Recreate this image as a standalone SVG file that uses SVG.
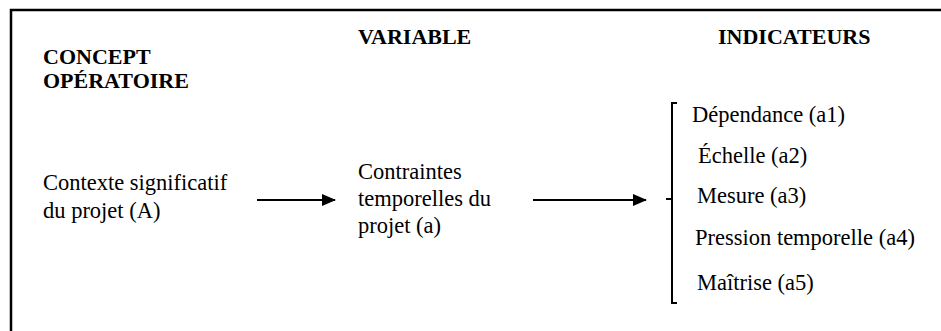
<svg xmlns="http://www.w3.org/2000/svg" width="941" height="331" viewBox="0 0 941 331">
  <style>
    text { font-family: 'Liberation Serif', 'DejaVu Serif', 'Times New Roman', Times, serif; fill: #000; }
    .h { font-size: 22px; font-weight: bold; }
    .t { font-size: 22.5px; }
    .ln { stroke: #000; fill: none; }
  </style>
  <defs>
    <marker id="arrowhead" markerWidth="14" markerHeight="12" refX="13" refY="6" orient="auto" markerUnits="userSpaceOnUse">
      <path d="M0,0 L14,6 L0,12 Z" fill="#000"/>
    </marker>
  </defs>

  <!-- frame -->
  <path class="ln" d="M11,331 V10 H941" stroke-width="2.5"/>

  <!-- column headings -->
  <g id="head-concept">
    <text class="h" x="43" y="64" font-family="Liberation Serif, serif">CONCEPT</text>
    <text class="h" x="43" y="88" font-family="Liberation Serif, serif">OPÉRATOIRE</text>
  </g>
  <g id="head-variable">
    <text class="h" x="358" y="44" font-family="Liberation Serif, serif">VARIABLE</text>
  </g>
  <g id="head-indicateurs">
    <text class="h" x="718" y="44" font-family="Liberation Serif, serif">INDICATEURS</text>
  </g>

  <!-- nodes -->
  <g id="node-concept">
    <text class="t" x="43" y="190" font-family="Liberation Serif, serif">Contexte significatif</text>
    <text class="t" x="43" y="218" font-family="Liberation Serif, serif">du projet (A)</text>
  </g>
  <g id="node-variable">
    <text class="t" x="358" y="179" font-family="Liberation Serif, serif">Contraintes</text>
    <text class="t" x="358" y="206" font-family="Liberation Serif, serif">temporelles du</text>
    <text class="t" x="358" y="233" font-family="Liberation Serif, serif">projet (a)</text>
  </g>
  <g id="node-indicateurs">
    <path class="ln" stroke-width="2" d="M677,103 H672 V303 H677 M672,199 H666"/>
    <text class="t" x="692" y="122" font-family="Liberation Serif, serif">Dépendance (a1)</text>
    <text class="t" x="698" y="163" font-family="Liberation Serif, serif">Échelle (a2)</text>
    <text class="t" x="697" y="203" font-family="Liberation Serif, serif">Mesure (a3)</text>
    <text class="t" x="695" y="245" font-family="Liberation Serif, serif">Pression temporelle (a4)</text>
    <text class="t" x="697" y="290" font-family="Liberation Serif, serif">Maîtrise (a5)</text>
  </g>

  <!-- connectors -->
  <g id="connectors">
    <line class="ln" stroke-width="2" x1="257" y1="200" x2="335" y2="200" marker-end="url(#arrowhead)"/>
    <line class="ln" stroke-width="2" x1="533" y1="200" x2="646" y2="200" marker-end="url(#arrowhead)"/>
  </g>
</svg>
